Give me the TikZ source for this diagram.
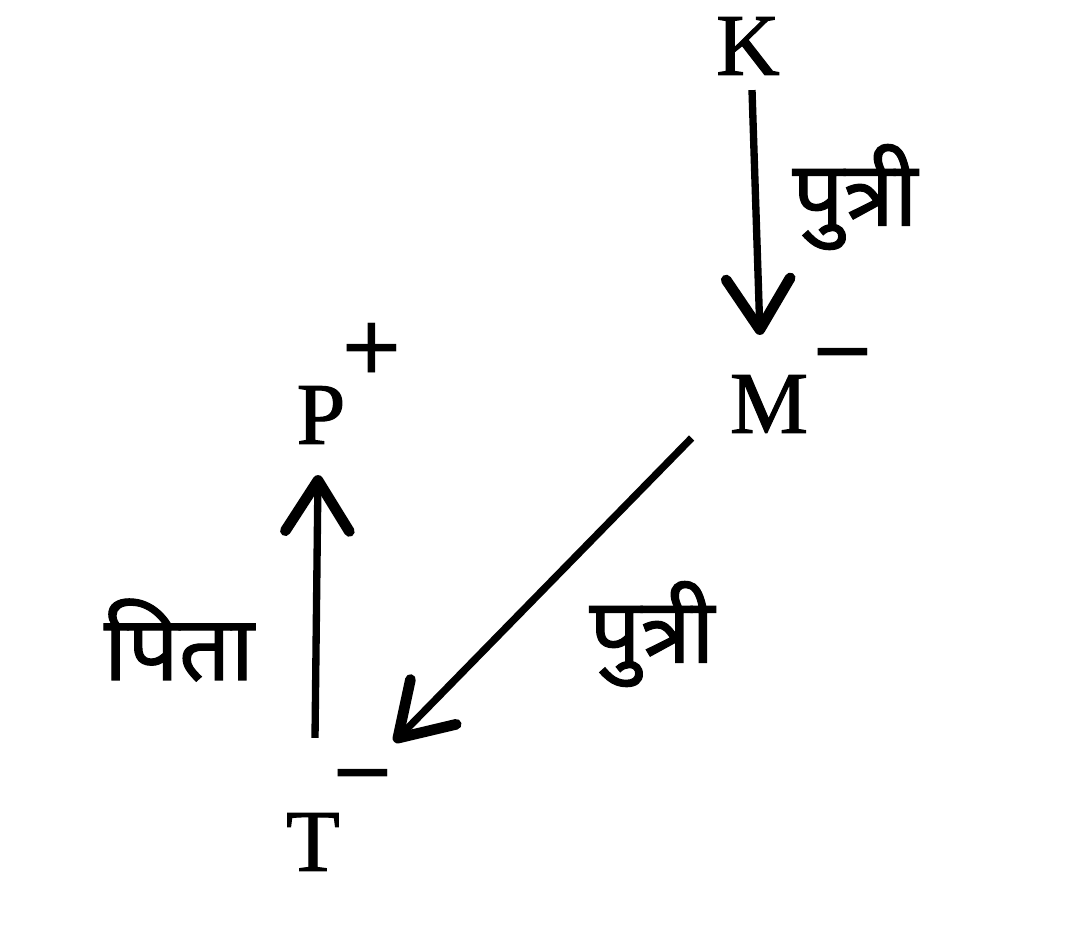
\documentclass[tikz,border=0pt]{standalone}
\usepackage{fontspec}
\setmainfont{Liberation Serif}
\newfontfamily\letterfont[FakeBold=1.2]{Liberation Serif}
\newfontfamily\devfont[Script=Devanagari,FakeBold=1.2]{Noto Sans}
\usetikzlibrary{arrows.meta,calc}
\begin{document}
\begin{tikzpicture}[x=0.75pt,y=-0.75pt,
  letter/.style={inner sep=0pt,font=\letterfont\fontsize{66}{70}\selectfont},
  sign/.style={inner sep=0pt,font=\bfseries\fontsize{80}{84}\selectfont},
  lab/.style={inner sep=0pt,font=\devfont\fontsize{68}{76}\selectfont},
  arr/.style={line width=5.5pt,-{Straight Barb[length=38pt,width=48pt,line width=8pt,round]}}]
\useasboundingbox[fill=white] (0,0) rectangle (1073,936);
\node[letter] (K) at (748,46) {K};
\node[letter] (M) at (769,404) {M};
\node[letter] (P) at (321,415) {P};
\node[letter] (T) at (313,842) {T};
\node[sign,anchor=north] (Mm) at (843,348) {−};
\node[sign] (Pp) at (372,353) {+};
\node[sign,anchor=north] (Tm) at (363,769) {−};
\node[lab] (l1) at (855,197) {पुत्री};
\node[lab] (l2) at (652,634) {पुत्री};
\node[lab] (l3) at (179,640) {पिता};
\draw[arr] ($(K.south)+(4,15)$) -- ($(M.north)+(-9,-40)$);
\draw[arr] ($(M.west)+(-38,34)$) -- ($(T.north east)+(54,-71)$);
\draw[arr] ($(T.north)+(2,-75)$) -- ($(P.south)+(-3,31)$);
\end{tikzpicture}
\end{document}
